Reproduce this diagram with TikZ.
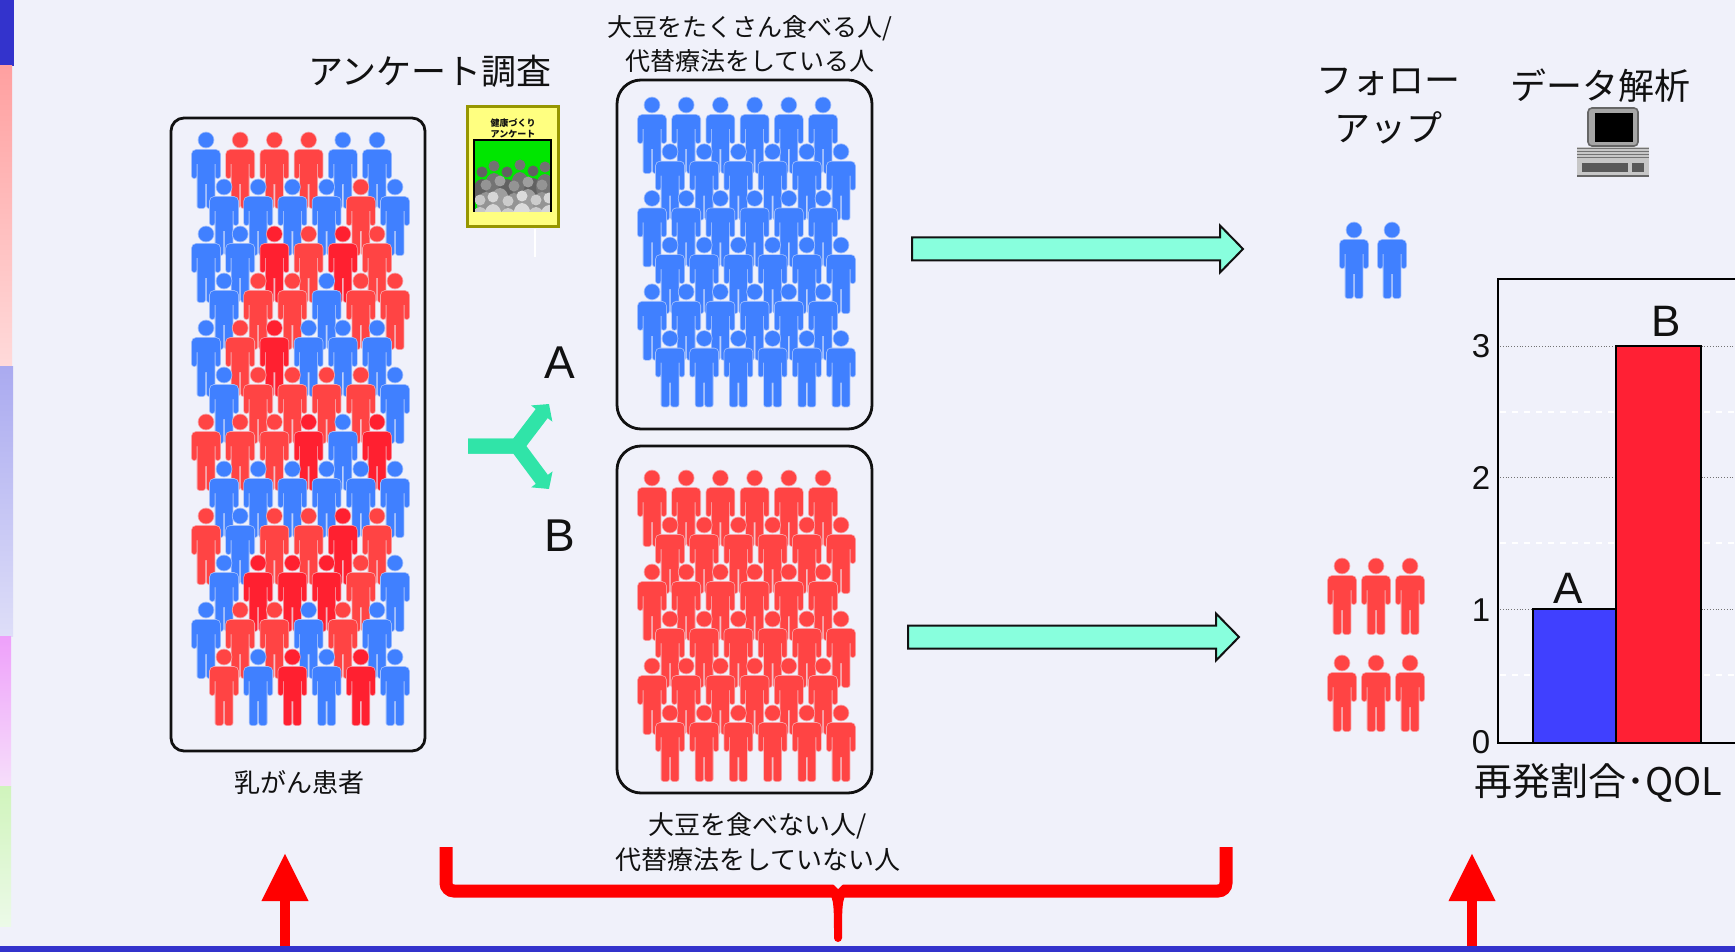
\documentclass[tikz,border=0pt]{standalone}
\usepackage{fontspec}
\setmainfont{Liberation Sans}
\newfontfamily\jp{Noto Sans CJK JP}
\usetikzlibrary{arrows.meta,calc}

\definecolor{bg}{RGB}{240,241,250}
\definecolor{ink}{RGB}{17,17,17}
\definecolor{pb}{RGB}{64,128,255}
\definecolor{pr}{RGB}{255,68,68}
\definecolor{pd}{RGB}{255,32,48}
\definecolor{afill}{RGB}{136,255,221}
\definecolor{sfill}{RGB}{48,228,168}
\definecolor{barA}{RGB}{64,64,255}
\definecolor{barB}{RGB}{255,32,52}
\definecolor{qyellow}{RGB}{255,255,128}
\definecolor{qolive}{RGB}{150,150,0}
\definecolor{qgreen}{RGB}{0,230,0}
\definecolor{edgeblue}{RGB}{51,51,204}

% one pictogram figure, head centre at the origin (y grows downwards)
\newcommand\personpath{(0,0) circle [radius=7.5]
  [rounded corners=2pt] (-14,10) rectangle (14,24)
  [rounded corners=1pt] (-14,13) rectangle (-9.5,38) (9.5,13) rectangle (14,38)
  (-8.5,13) rectangle (8.5,44) (-8.5,40) rectangle (-1,68) (1,40) rectangle (8.5,68)}

% wide outlined arrow from #1 to #2
\newcommand\blockarrow[2]{%
  \draw[barrow] ($(#1)+(0,-11.5)$) -- ($(#2)+(-23,-11.5)$) -- ($(#2)+(-23,-23.5)$) -- (#2)
    -- ($(#2)+(-23,23.5)$) -- ($(#2)+(-23,11.5)$) -- ($(#1)+(0,11.5)$) -- cycle;}

\tikzset{
  pics/person/.style={code={
    \path[fill=#1!45!bg, draw=#1!45!bg, line width=0.8pt] \personpath;
    \fill[#1] \personpath;
  }},
  box/.style={draw=ink, line width=1.4pt, rounded corners=#1},
  box/.default=6pt,
  barrow/.style={fill=afill, draw=ink, line width=1pt, line join=miter},
  split/.style={draw=sfill, line width=7.5pt, line join=miter,
    -{Triangle[length=6pt,width=13pt]}},
  redarrow/.style={red, line width=5pt, -{Triangle[length=24pt,width=22pt]}},
  head/.style={font=\jp\fontsize{18pt}{24pt}\selectfont, align=center},
  lbl/.style={font=\jp\fontsize{12.5pt}{17pt}\selectfont, align=center},
  letter/.style={font=\fontsize{23pt}{26pt}\selectfont},
  tick/.style={font=\fontsize{16.5pt}{18pt}\selectfont},
}

\begin{document}
\begin{tikzpicture}[x=0.5pt, y=-0.5pt, every node/.style={text=ink, inner sep=0pt}]
\fill[bg] (0,0) rectangle (1735,952);
\useasboundingbox (0,0) rectangle (1735,952);

% slide decoration: left strip and bottom rule
\fill[edgeblue] (0,0) rectangle (14,66);
\shade[top color={rgb,255:red,255;green,160;blue,160}, bottom color={rgb,255:red,255;green,218;blue,218}] (0,66) rectangle (12,366);
\shade[top color={rgb,255:red,170;green,170;blue,240}, bottom color={rgb,255:red,222;green,222;blue,248}] (0,366) rectangle (13,636);
\shade[top color={rgb,255:red,238;green,160;blue,250}, bottom color={rgb,255:red,246;green,222;blue,250}] (0,636) rectangle (11,786);
\shade[top color={rgb,255:red,208;green,244;blue,188}, bottom color={rgb,255:red,236;green,250;blue,232}] (0,786) rectangle (11,926);
\fill[edgeblue] (0,946) rectangle (1735,952);

% headings
\node[head, font=\jp\fontsize{17.5pt}{21pt}\selectfont] (survey) at (430,71) {アンケート調査};
\node[head] (follow) at (1388,106) {フォロー\\アップ};
\node[head] (analysis) at (1600,86) {データ解析};

% patients
\node[box=6.5pt, minimum width=127pt, minimum height=316.5pt] (patients) at (298,434.5) {};
\foreach \row [count=\j from 0] in {{b,r,r,r,b,b},{b,b,b,b,r,b},{b,b,d,r,d,r},{b,r,r,b,r,r},
    {b,r,d,b,b,b},{b,r,r,r,r,b},{r,r,r,d,b,d},{b,b,b,b,b,b},
    {r,b,r,r,d,r},{b,d,d,d,r,b},{b,r,r,b,r,b},{r,b,d,b,d,b}} {
  \foreach \c [count=\i from 0] in \row {
    \pgfmathsetmacro\px{206+34.2*\i+18*mod(\j,2)}
    \pgfmathsetmacro\py{140+47*\j}
    \pic at (\px,\py) {person=p\c};
  }
}
\node[lbl, font=\jp\fontsize{13pt}{17pt}\selectfont] (patientsLbl) at (299,783) {乳がん患者};

% questionnaire sheet
\draw[fill=qyellow, draw=qolive, line width=1.5pt] (467,107) rectangle (558,227);
\node[font=\jp\bfseries\fontsize{4.5pt}{5.5pt}\selectfont, align=center] (sheet) at (513,128) {健康づくり\\アンケート};
\begin{scope}
  \clip (474,140) rectangle (551,212);
  \fill[qgreen] (474,140) rectangle (551,212);
  \foreach \cx/\cy/\g in {482/172/62, 494/166/55, 507/172/62, 520/165/55, 533/171/62, 545/167/55,
      486/185/42, 500/181/38, 514/186/42, 528/182/38, 542/185/42,
      480/200/22, 493/197/16, 508/201/20, 522/196/14, 536/200/20, 549/198/16} {
    \fill[black!\g] (\cx,\cy) circle [radius=5.5];
    \fill[black!\g] (\cx,\cy+20) ellipse [x radius=9, y radius=13];
  }
\end{scope}
\draw[line width=1.2pt] (474,212) -- (474,140) -- (551,140) -- (551,212);
\draw[white, line width=1pt] (535,229) -- (535,257);

% split into the two groups
\draw[split] (468,446) -- (517,446) -- (549,404);
\draw[split] (468,446) -- (517,446) -- (549,489);
\node[letter] (lblA) at (560,363) {A};
\node[letter] (lblB) at (560,536) {B};

% group A
\node[lbl] (grpAlbl) at (750,44) {大豆をたくさん食べる人/\\代替療法をしている人};
\node[box=12pt, minimum width=127.5pt, minimum height=174.5pt] (grpA) at (744.5,254.5) {};
\foreach \j in {0,...,5}
  \foreach \i in {0,...,5} {
    \pgfmathsetmacro\px{652+34.2*\i+18*mod(\j,2)}
    \pgfmathsetmacro\py{105+46.7*\j}
    \pic at (\px,\py) {person=pb};
  }

% group B
\node[box=12pt, minimum width=127.5pt, minimum height=173.5pt] (grpB) at (744.5,619.5) {};
\foreach \j in {0,...,5}
  \foreach \i in {0,...,5} {
    \pgfmathsetmacro\px{652+34.2*\i+18*mod(\j,2)}
    \pgfmathsetmacro\py{478+47*\j}
    \pic at (\px,\py) {person=pr};
  }
\node[lbl, font=\jp\fontsize{13pt}{17.5pt}\selectfont] (grpBlbl) at (758,842) {大豆を食べない人/\\代替療法をしていない人};

% follow-up
\coordinate (fwdA) at (912,249);
\coordinate (endA) at (1243,249);
\coordinate (fwdB) at (908,637);
\coordinate (endB) at (1239,637);
\blockarrow{fwdA}{endA}
\blockarrow{fwdB}{endB}
\foreach \px in {1354,1392}
  \pic at (\px,230) {person=pb};
\foreach \py in {566,663}
  \foreach \px in {1342,1376,1410}
    \pic at (\px,\py) {person=pr};

% computer
\draw[fill=black!35, draw=black!60, line width=0.8pt, rounded corners=2pt] (1588,108) rectangle (1638,146);
\fill[black] (1595,113) rectangle (1633,142);
\fill[black!22] (1577,147) rectangle (1649,176);
\foreach \yy in {149,152,155,158}
  \draw[black!55, line width=0.5pt] (1577,\yy) -- (1649,\yy);
\fill[black!65] (1582,163) rectangle (1628,172);
\fill[black!65] (1632,163) rectangle (1644,172);
\draw[black!60, line width=0.8pt] (1577,176) -- (1649,176);

% chart
\foreach \yy in {412,543,675}
  \draw[white, dashed, line width=0.8pt] (1500,\yy) -- (1735,\yy);
\foreach \yy in {346,477,609}
  \draw[black!55, densely dotted, line width=0.4pt] (1500,\yy) -- (1735,\yy);
\draw[line width=1.2pt] (1745,279) -- (1498,279) -- (1498,743) -- (1745,743);
\foreach \v in {0,...,3}
  \node[tick] (tick\v) at (1481,742-132*\v) {\v};
\draw[line width=1.2pt, fill=barA] (1533,743) rectangle (1616,609);
\draw[line width=1.2pt, fill=barB] (1616,743) rectangle (1701,346);
\node[letter, font=\fontsize{22pt}{24pt}\selectfont] (barAlbl) at (1568,588) {A};
\node[letter, font=\fontsize{22pt}{24pt}\selectfont] (barBlbl) at (1666,321) {B};
\node[head, anchor=west, font=\jp\fontsize{19pt}{22pt}\selectfont] (outcome) at (1474,783) {再発割合･QOL};

% steps marked along the bottom
\coordinate (up1) at (285,946);
\coordinate (up1tip) at (285,853);
\coordinate (up2) at (1472,946);
\coordinate (up2tip) at (1472,853);
\draw[redarrow] (up1) -- (up1tip);
\draw[redarrow] (up2) -- (up2tip);
\draw[red, line width=6.5pt, rounded corners=4pt] (446,847) |- (838,891) -| (1226,847);
\fill[red] (824,891) .. controls (834,893) and (834,902) .. (834,938)
  -- (842,938) .. controls (842,902) and (842,893) .. (852,891) -- cycle;
\fill[red] (838,938) circle [radius=4];
\fill[bg] (833,884) -- (838,889) -- (843,884) -- cycle;
\end{tikzpicture}
\end{document}
